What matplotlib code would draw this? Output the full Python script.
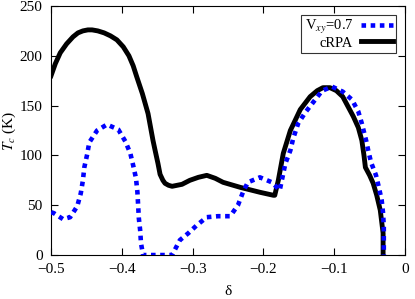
import matplotlib
matplotlib.use("Agg")
import matplotlib.pyplot as plt

plt.rcParams['font.family'] = ['Liberation Serif', 'DejaVu Serif']
plt.rcParams['mathtext.fontset'] = 'stix'

crpa_x = [-0.5, -0.494, -0.487, -0.478, -0.469, -0.462, -0.455, -0.448, -0.442, -0.434, -0.425,
          -0.416, -0.407, -0.398, -0.39, -0.384, -0.379, -0.371, -0.363, -0.356, -0.353,
          -0.349, -0.346, -0.342, -0.339, -0.334, -0.329, -0.322, -0.315, -0.304, -0.292, -0.28,
          -0.268, -0.257, -0.233, -0.205, -0.186, -0.184,
          -0.179, -0.172, -0.162, -0.148, -0.134, -0.124, -0.116, -0.106, -0.097, -0.088, -0.073,
          -0.066, -0.061, -0.058, -0.056, -0.05, -0.045, -0.04, -0.035, -0.031, -0.031]
crpa_y = [180, 192, 203, 212, 219, 223, 225, 226, 226, 225, 223,
          220, 216, 209, 200, 190, 179, 162, 142, 115, 105,
          92, 81, 75, 72, 70, 69, 70, 71, 75, 78, 80,
          77, 73, 68, 63, 60, 60,
          75, 102, 125, 146, 159, 165, 168, 168, 165, 159, 139,
          128, 115, 100, 88, 80, 72, 60, 45, 22, 0]

v07_x = [-0.5, -0.496, -0.483, -0.473, -0.463, -0.458, -0.455, -0.453, -0.449, -0.446, -0.435,
         -0.421, -0.405, -0.395, -0.388, -0.384, -0.38, -0.378, -0.377, -0.376, -0.374, -0.373,
         -0.37, -0.329, -0.318, -0.306, -0.294, -0.28, -0.264, -0.247, -0.236, -0.229, -0.222,
         -0.205, -0.188, -0.177, -0.169, -0.162, -0.158, -0.151, -0.141, -0.117, -0.103, -0.088,
         -0.075, -0.066, -0.061, -0.055, -0.052, -0.048, -0.041, -0.037, -0.033, -0.031, -0.030,
         -0.030]
v07_y = [43, 42, 36, 38, 49, 62, 75, 88, 101, 113, 125,
         131, 126, 114, 102, 90, 77, 63, 50, 37, 24, 12,
         0, 0, 15, 22, 30, 38, 39, 39, 50, 63, 73,
         78, 73, 65, 92, 105, 117, 132, 143, 165, 169, 164,
         156, 144, 132, 115, 105, 93, 80, 68, 55, 42, 28,
         0]

xticks = [-0.5, -0.4, -0.3, -0.2, -0.1, 0]
xticklabels = ['\u22120.5', '\u22120.4', '\u22120.3', '\u22120.2', '\u22120.1', '0']
yticks = [0, 50, 100, 150, 200, 250]

fig = plt.figure(figsize=(4.15, 2.99), dpi=100)
ax = fig.add_axes([0.123, 0.147, 0.853, 0.833])

ax.plot(v07_x, v07_y, color='#0000ff', lw=3.3, linestyle=(0, (1, 1.0)),
        label='V$_{xy}$=0.7', zorder=3)
ax.plot(crpa_x, crpa_y, color='black', lw=3.5, label='cRPA', zorder=2,
        solid_joinstyle='round')

ax.set_xlim(-0.5, 0)
ax.set_ylim(0, 250)
ax.set_xticks(xticks)
ax.set_xticklabels(xticklabels)
ax.set_yticks(yticks)
ax.tick_params(direction='in', top=True, right=True, length=5, width=0.8,
               labelsize=11)
ax.tick_params(axis='y', pad=6)
ax.tick_params(axis='x', pad=6)
ax.set_xlabel('\u03b4', fontsize=11, labelpad=6)
ax.set_ylabel('$T_c$ (K)', fontsize=11, labelpad=1)

leg = ax.legend(loc='upper right', markerfirst=False, fontsize=10.5, handlelength=2.2,
                frameon=True, fancybox=False, edgecolor='black', borderpad=0.25,
                labelspacing=0.0, handletextpad=0.5, borderaxespad=0.6)
leg.get_frame().set_linewidth(0.8)
for t in leg.get_texts():
    t.set_ha('right')

fig.savefig('out.png', dpi=100)
